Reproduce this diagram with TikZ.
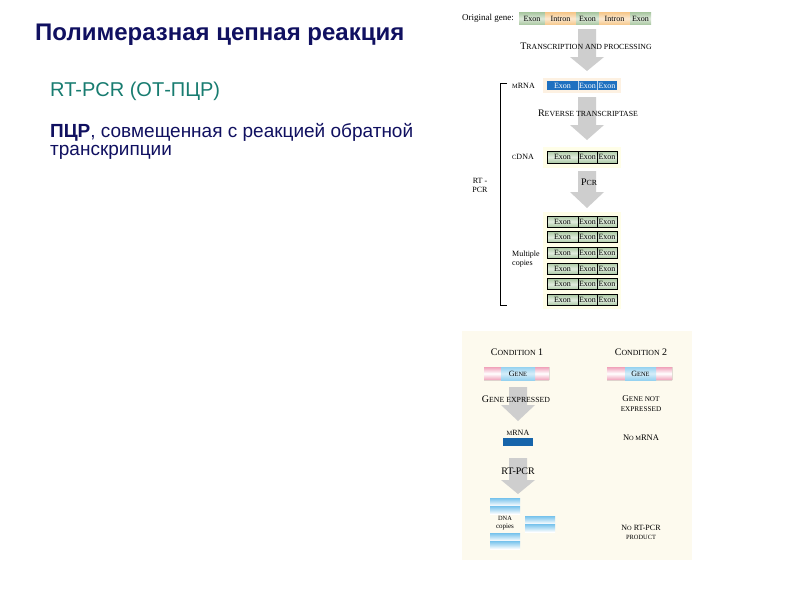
\documentclass[tikz,border=0pt]{standalone}
\usepackage{fontspec}
\setmainfont{Liberation Serif}
\newfontfamily\slidefont{Liberation Sans}
\usetikzlibrary{positioning}

\definecolor{titleblue}{RGB}{16,16,96}
\definecolor{rtteal}{RGB}{24,124,112}
\definecolor{exongreen}{RGB}{170,200,162}
\definecolor{intronorange}{RGB}{246,200,140}
\definecolor{rnablue}{RGB}{30,112,192}
\definecolor{arrowgray}{RGB}{206,206,206}
\definecolor{panelcream}{RGB}{253,250,238}
\definecolor{genepink}{RGB}{240,162,186}
\definecolor{geneblue}{RGB}{150,210,240}
\definecolor{dnablue}{RGB}{118,194,236}
\definecolor{mrnadark}{RGB}{22,100,170}

% small capitals by hand
\newcommand\smc[1]{{\fontsize{6.4}{7}\selectfont #1}}
\newcommand\smcb[1]{{\fontsize{7.8}{9}\selectfont #1}}
% gray block arrow: x, top, head base, tip
\newcommand\grayarrow[4]{%
  \fill[arrowgray] (#1-9,#2) -- (#1+9,#2) -- (#1+9,#3) -- (#1+17,#3)
    -- (#1,#4) -- (#1-17,#3) -- (#1-9,#3) -- cycle;}

\tikzset{
  lbl/.style={font=\fontsize{8}{9}\selectfont, inner sep=0pt, align=center},
  biglbl/.style={lbl, font=\fontsize{10}{10.5}\selectfont},
  seg/.style={font=\fontsize{8}{8}\selectfont, inner sep=0pt},
  copybox/.style={draw=black, line width=0.7pt, top color=exongreen,
    bottom color=exongreen, middle color=exongreen!35!white},
}

\begin{document}
\begin{tikzpicture}[x=1pt, y=-1pt]
    \useasboundingbox (0,0) rectangle (794,595);
    \fill[white] (0,0) rectangle (794,595);

    % slide text
    \node[anchor=base west, inner sep=0pt, text=titleblue,
      font=\slidefont\fontsize{24}{28}\selectfont\bfseries] (title) at (35,40)
      {Полимеразная цепная реакция};
    \node[anchor=base west, inner sep=0pt, text=rtteal,
      font=\slidefont\fontsize{20}{24}\selectfont] (rtpcr) at (50,96)
      {RT-PCR (ОТ-ПЦР)};
    \node[anchor=base west, inner sep=0pt, text=titleblue,
      font=\slidefont\fontsize{19}{22}\selectfont] (descr1) at (50,137)
      {\textbf{ПЦР}, совмещенная с реакцией обратной};
    \node[anchor=base west, inner sep=0pt, text=titleblue,
      font=\slidefont\fontsize{19}{22}\selectfont] (descr2) at (50,155)
      {транскрипции};

    % upper scheme
    \node[lbl, font=\fontsize{9}{9}\selectfont, anchor=east] (orig) at (514,18.5) {Original gene:};
    \foreach \a/\b/\c/\t [count=\k] in {519/545/exongreen/Exon,
        545/576/intronorange/Intron, 576/599/exongreen/Exon,
        599/630/intronorange/Intron, 630/651/exongreen/Exon}
      \fill[top color=\c, bottom color=\c, middle color=\c!40!white]
        (\a,12.5) rectangle (\b,24.5) node[seg, midway] (gene\k) {\t};

    \grayarrow{587}{29}{57}{71}
    \node[biglbl] (transcr) at (586,46) {T\smcb{RANSCRIPTION AND PROCESSING}};

    \fill[intronorange!25] (543,78) rectangle (621,93);
    \fill[rnablue] (547,81) rectangle (617,90);
    \draw[white!70!rnablue] (578,81) -- (578,90) (597,81) -- (597,90);
    \foreach \a/\b [count=\k] in {547/578, 578/597, 597/617}
      \node[seg, text=white] (rna\k) at ({(\a+\b)/2},85.5) {Exon};
    \node[lbl, anchor=west] (mrna) at (512,85.5) {\smc{M}RNA};

    \grayarrow{587}{97}{125}{140}
    \node[biglbl] (revtr) at (588,113) {R\smcb{EVERSE TRANSCRIPTASE}};

    \fill[yellow!9] (543,147) rectangle (621,168);
    \filldraw[copybox] (547,151) rectangle (617,163);
    \draw[line width=0.7pt] (578,151) -- (578,163) (597,151) -- (597,163);
    \foreach \a/\b [count=\k] in {547/578, 578/597, 597/617}
      \node[seg] (cdna\k) at ({(\a+\b)/2},157) {Exon};
    \node[lbl, anchor=west] (cdna) at (512,157) {\smc{C}DNA};

    \grayarrow{587}{171}{192}{208}
    \node[biglbl] (pcr) at (589,182) {P\smcb{CR}};

    \fill[yellow!9] (543,212) rectangle (621,309);
    \foreach \i in {0,...,5} {
      \pgfmathsetmacro\cy{221.5+15.7*\i}
      \filldraw[copybox] (547,\cy-5.5) rectangle (617,\cy+5.5);
      \draw[line width=0.7pt] (578,\cy-5.5) -- (578,\cy+5.5)
        (597,\cy-5.5) -- (597,\cy+5.5);
      \node[seg] (copyA\i) at (562.5,\cy) {Exon};
      \node[seg] (copyB\i) at (587.5,\cy) {Exon};
      \node[seg] (copyC\i) at (607,\cy) {Exon};
    }
    \node[lbl, anchor=west, align=left] (multi) at (512,259.5) {Multiple\\copies};

    \draw[line width=0.8pt] (507,83) -- (500,83) -- (500,305) -- (507,305);
    \node[lbl] (rtlabel) at (480,185.5) {RT -\\PCR};

    % lower scheme
    \fill[panelcream] (462,331) rectangle (692,560);
    \node[biglbl] (cond1) at (517,352.5) {C\smcb{ONDITION} 1};
    \node[biglbl] (cond2) at (641,352.5) {C\smcb{ONDITION} 2};
    \foreach \a/\b/\c/\d [count=\k] in {484/501/535/549, 607/625/656/672} {
      \fill[top color=genepink, bottom color=genepink, middle color=white]
        (\a,367) rectangle (\b,380) (\c,367) rectangle (\d,380);
      \fill[top color=geneblue, bottom color=geneblue, middle color=geneblue!40!white]
        (\b,367) rectangle (\c,380) node[seg, midway] (genebox\k) {G\smc{ENE}};
    }

    \grayarrow{518}{387}{405}{421}
    \node[biglbl] (expr) at (516,399) {G\smcb{ENE EXPRESSED}};
    \node[lbl, font=\fontsize{9}{10.5}\selectfont] (noexpr) at (641,403.5)
      {G{\fontsize{7.2}{8}\selectfont ENE NOT}\\{\fontsize{7.2}{8}\selectfont EXPRESSED}};

    \node[lbl] (mrna2) at (518,433) {\smc{M}RNA};
    \fill[mrnadark] (503,438) rectangle (533,446);
    \node[lbl, font=\fontsize{8.5}{9}\selectfont] (nomrna) at (641,438) {N\smc{O M}RNA};

    \grayarrow{518}{458}{480}{494}
    \node[biglbl] (rt2) at (518,471) {RT-PCR};

    \foreach \x/\y in {490/498, 490/533, 525/516} {
      \fill[top color=dnablue, bottom color=white] (\x,\y) rectangle (\x+30,\y+8);
      \fill[top color=dnablue, bottom color=white] (\x,\y+8) rectangle (\x+30,\y+16);
    }
    \node[lbl, font=\fontsize{7}{8}\selectfont] (copies) at (505,523.5) {\smc{DNA}\\copies};
    \node[lbl] (noprod) at (641,532) {N\smc{O} RT-PCR\\\smc{PRODUCT}};
\end{tikzpicture}
\end{document}
